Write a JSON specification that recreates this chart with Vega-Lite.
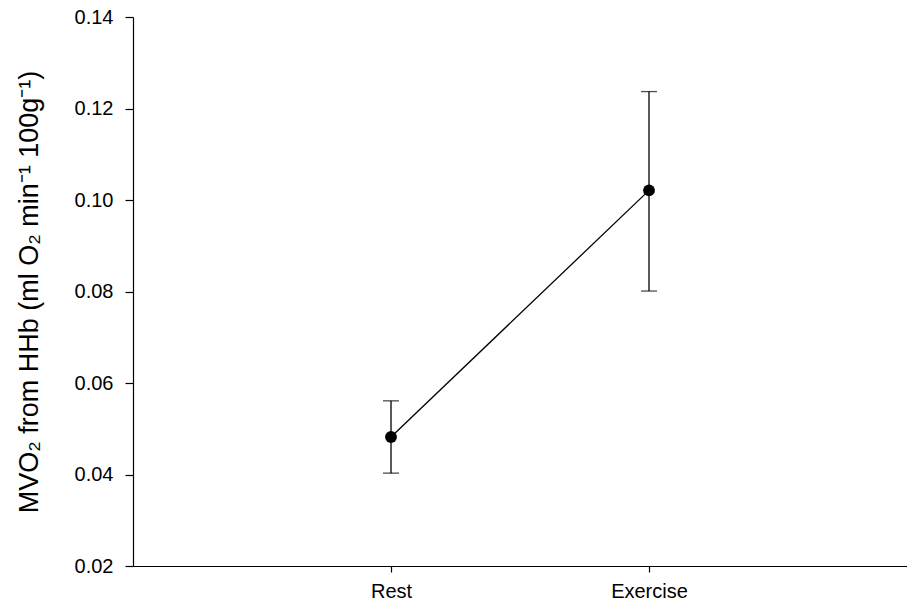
{
  "$schema": "https://vega.github.io/schema/vega-lite/v6.json",
  "autosize": "none",
  "padding": {"left": 133, "top": 17, "right": 0, "bottom": 46},
  "width": 774,
  "height": 549,
  "background": "white",
  "config": {
    "view": {"stroke": null},
    "font": "Liberation Sans",
    "axis": {
      "grid": false,
      "domainColor": "black",
      "tickColor": "black",
      "labelColor": "black",
      "titleColor": "black",
      "labelFont": "Liberation Sans",
      "titleFont": "Liberation Sans",
      "labelFontSize": 20,
      "domainWidth": 1.2,
      "tickWidth": 1.2,
      "tickSize": 8
    }
  },
  "data": {
    "values": [
      {"condition": "Rest", "mean": 0.0482, "lower": 0.0403, "upper": 0.0561},
      {"condition": "Exercise", "mean": 0.1021, "lower": 0.0801, "upper": 0.1237}
    ]
  },
  "encoding": {
    "x": {
      "field": "condition",
      "type": "nominal",
      "sort": ["Rest", "Exercise"],
      "scale": {"type": "point", "padding": 1},
      "axis": {"title": null, "labelAngle": 0, "labelPadding": 9, "labelFontSize": 20, "tickSize": 6}
    }
  },
  "layer": [
    {
      "mark": {"type": "rule", "color": "black", "strokeWidth": 1.3},
      "encoding": {
        "y": {"field": "lower", "type": "quantitative"},
        "y2": {"field": "upper"}
      }
    },
    {
      "mark": {"type": "tick", "color": "black", "size": 16, "thickness": 1.3},
      "encoding": {"y": {"field": "lower", "type": "quantitative"}}
    },
    {
      "mark": {"type": "tick", "color": "black", "size": 16, "thickness": 1.3},
      "encoding": {"y": {"field": "upper", "type": "quantitative"}}
    },
    {
      "mark": {"type": "line", "color": "black", "strokeWidth": 1.3},
      "encoding": {"y": {"field": "mean", "type": "quantitative"}}
    },
    {
      "mark": {"type": "point", "filled": true, "color": "black", "size": 140, "opacity": 1},
      "encoding": {
        "y": {
          "field": "mean",
          "type": "quantitative",
          "scale": {"domain": [0.02, 0.14], "nice": false, "zero": false},
          "axis": {
            "title": "MVO₂ from HHb (ml O₂ min⁻¹ 100g⁻¹)",
            "values": [0.02, 0.04, 0.06, 0.08, 0.1, 0.12, 0.14],
            "format": ".2f",
            "labelPadding": 12,
            "labelFontSize": 20,
            "titleFontSize": 27,
            "titleFontWeight": "normal",
            "titlePadding": 31
          }
        }
      }
    }
  ]
}
